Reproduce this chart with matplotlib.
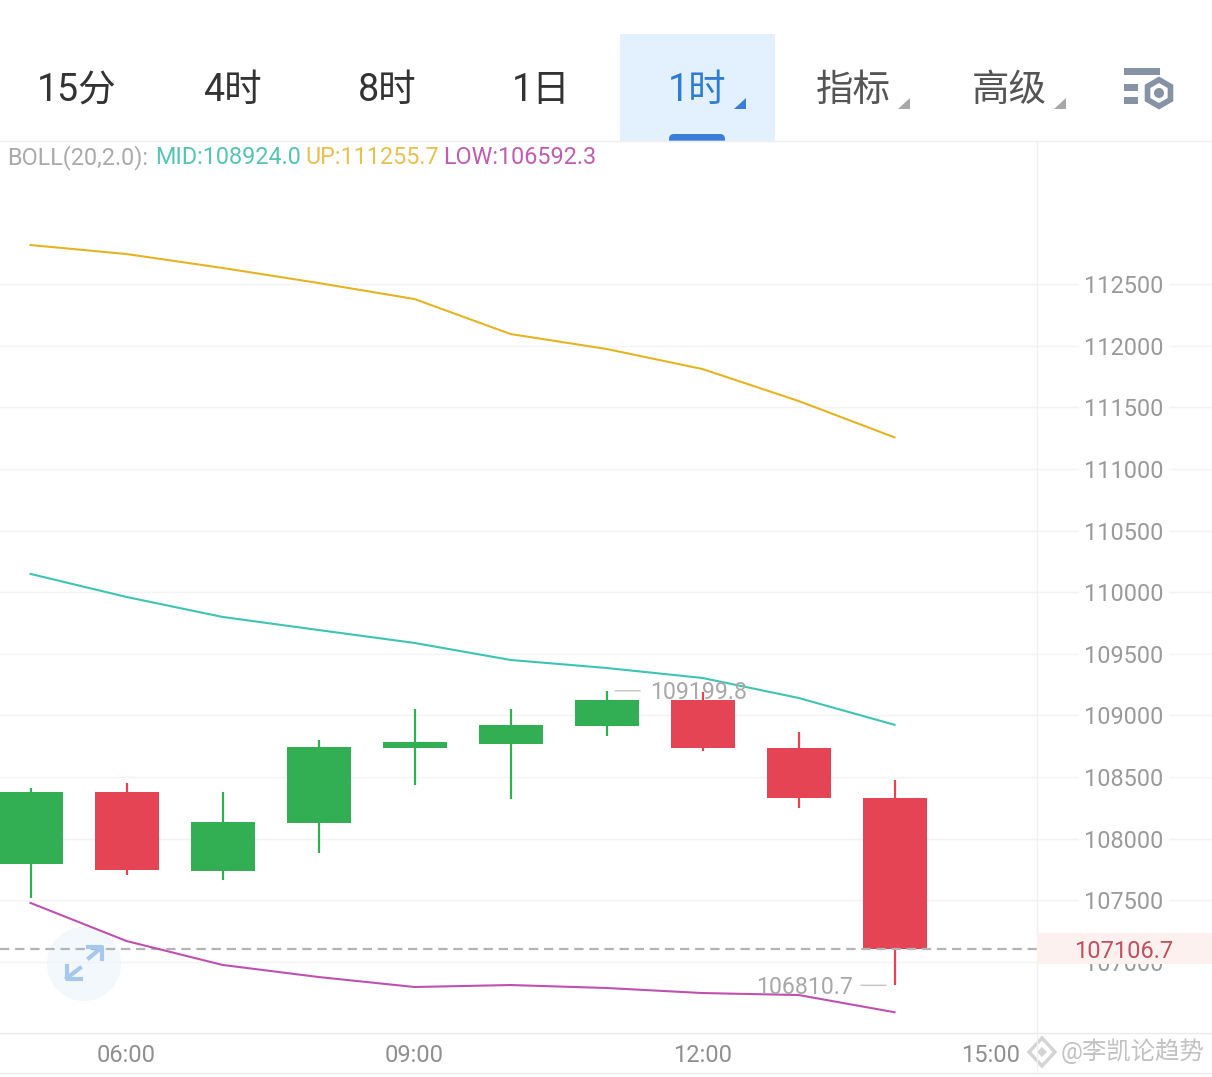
import matplotlib
matplotlib.use("Agg")
import matplotlib.pyplot as plt
from matplotlib.patches import Rectangle, Circle, Polygon, FancyBboxPatch, RegularPolygon

FONT = ['Roboto', 'Noto Sans CJK SC', 'DejaVu Sans']
plt.rcParams['font.family'] = FONT

hours = [5, 6, 7, 8, 9, 10, 11, 12, 13, 14]
opens = [107795, 108379, 107738, 108128, 108736, 108768, 108914, 109125, 108732, 108330]
closes = [108379, 107746, 108136, 108744, 108785, 108923, 109125, 108736, 108330, 107106.7]
highs = [108412, 108452, 108379, 108801, 109052, 109052, 109199.8, 109190, 108866, 108476]
lows = [107519, 107706, 107665, 107884, 108436, 108322, 108833, 108712, 108249, 106810.7]
boll_up = [112816, 112743, 112630, 112508, 112378, 112094, 111973, 111810, 111551, 111255.7]
boll_mid = [110148, 109961, 109799, 109693, 109588, 109450, 109385, 109304, 109142, 108924.0]
boll_low = [107479, 107170, 106976, 106878, 106797, 106813, 106789, 106748, 106732, 106592.3]
y_ticks = [107000, 107500, 108000, 108500, 109000, 109500, 110000, 110500, 111000, 111500, 112000, 112500]
x_ticks = [6, 9, 12, 15]
x_labels = ['06:00', '09:00', '12:00', '15:00']
last_price = 107106.7
tabs = ['15分', '4时', '8时', '1日', '1时', '指标', '高级']

GREEN, RED = '#32ae53', '#e44454'
UPC, MIDC, LOWC = '#e6b422', '#3cc4b4', '#c050b0'
W, H = 1212, 1077

fig = plt.figure(figsize=(W / 100, H / 100), dpi=100, facecolor='white')
ax = fig.add_axes([0, (H - 1032) / H, 1, (1032 - 141) / H])
ax.set_xlim(4.682, 17.307)
ax.set_ylim(106432, 113660)
for s in ax.spines.values():
    s.set_visible(False)
ax.set_facecolor('none')

ax.yaxis.tick_right()
ax.set_yticks(y_ticks)
ax.set_yticklabels([str(v) for v in y_ticks])
ax.tick_params(axis='y', length=0, pad=-92, labelsize=16.9, labelcolor='#9a9a9a')
ax.set_xticks(x_ticks)
ax.set_xticklabels(x_labels)
ax.tick_params(axis='x', length=0, pad=9, labelsize=17, labelcolor='#8f8f8f')
ax.grid(axis='y', color='#f3f3f3', lw=1, zorder=0)
for lab in ax.get_yticklabels():
    lab.set_zorder(3)
    lab.set_bbox(dict(facecolor='white', edgecolor='none', pad=4))

body_w = 0.667
for t, o, c, h, l in zip(hours, opens, closes, highs, lows):
    col = GREEN if c >= o else RED
    ax.vlines(t, l, h, color=col, lw=1.6, zorder=3)
    ax.add_patch(Rectangle((t - body_w / 2, min(o, c)), body_w, abs(c - o), color=col, lw=0, zorder=4))

ax.plot(hours, boll_up, color=UPC, lw=1.5, zorder=5)
ax.plot(hours, boll_mid, color=MIDC, lw=1.5, zorder=5)
ax.plot(hours, boll_low, color=LOWC, lw=1.5, zorder=5)

x_axis_end = 1037 / W
ax.plot([0, x_axis_end], [last_price, last_price], transform=ax.get_yaxis_transform(),
        color='#b4b4b8', lw=1.6, ls=(0, (4.2, 2.6)), zorder=4.5)

ax.annotate('109199.8', xy=(11, 109199.8), xytext=(31, -1.5), textcoords='offset points',
            va='center', ha='left', fontsize=16.7, color='#a8a8a8', zorder=6)
ax.annotate('', xy=(11.06, 109199.8), xytext=(11.38, 109199.8),
            arrowprops=dict(arrowstyle='-', color='#c4c4c4', lw=1), zorder=6)
ax.annotate('106810.7', xy=(14, 106810.7), xytext=(-30, -1.5), textcoords='offset points',
            va='center', ha='right', fontsize=16.7, color='#a8a8a8', zorder=6)
ax.annotate('', xy=(13.94, 106810.7), xytext=(13.62, 106810.7),
            arrowprops=dict(arrowstyle='-', color='#c4c4c4', lw=1), zorder=6)

# overlay in pixel space for app chrome
ui = fig.add_axes([0, 0, 1, 1], facecolor='none')
ui.set_xlim(0, W)
ui.set_ylim(H, 0)
ui.axis('off')

# expand button disc sits beneath the chart lines
ax.add_patch(Circle((84, 964), 37, facecolor='#f3f8fd', edgecolor='none', lw=0,
                    transform=ui.transData, zorder=1, clip_on=False))

ui.plot([0, W], [141, 141], color='#f0f0f0', lw=1)
ui.plot([0, W], [1032.5, 1032.5], color='#ebebeb', lw=1)
ui.plot([0, W], [1073, 1073], color='#ebebeb', lw=1)
ui.plot([1037, 1037], [141, 1073], color='#f0f0f0', lw=1)

ui.add_patch(Rectangle((620, 34), 155, 107, color='#e3f0fd', lw=0))
ui.add_patch(FancyBboxPatch((669, 134), 56, 12, boxstyle='round,pad=0,rounding_size=5', color='#3a7fd5', lw=0))
ui.add_patch(Rectangle((660, 141), 80, 8, color='white', lw=0))
ui.plot([620, 775], [141, 141], color='#f0f0f0', lw=1)
tab_x = [77, 232, 387, 541, 697, 853, 1009]
tab_c = ['#333333'] * 4 + ['#2f7dd3', '#555555', '#555555']
for x, s, c in zip(tab_x, tabs, tab_c):
    ui.text(x, 90.5, s, ha='center', va='center', fontsize=27, color=c)
for x, c in zip([734, 898, 1054], ['#3a7fd5', '#a8a8a8', '#a8a8a8']):
    ui.add_patch(Polygon([(x, 109), (x + 12, 109), (x + 12, 98)], color=c, lw=0))

ic = '#8593a5'
ui.add_patch(Rectangle((1124, 68), 36, 7, color=ic, lw=0))
ui.add_patch(Rectangle((1124, 84), 14, 7, color=ic, lw=0))
ui.add_patch(Rectangle((1124, 97), 14, 7, color=ic, lw=0))
ui.add_patch(RegularPolygon((1159, 93), 6, radius=16.5, color=ic, lw=0))
ui.add_patch(RegularPolygon((1159, 93), 6, radius=10, color='white', lw=0))
ui.add_patch(Circle((1159, 93), 5, color=ic, lw=0))

for x, s, c in [(7.5, 'BOLL(20,2.0):', '#aaaaaa'), (155.5, 'MID:108924.0', '#55c4b4'),
                (305.5, 'UP:111255.7', '#e8c050'), (443.5, 'LOW:106592.3', '#c25cb0')]:
    ui.text(x, 157.5, s, ha='left', va='center', fontsize=16.8, color=c)

ui.add_patch(Rectangle((1037, 933), 175, 31, color='#fdf1f0', lw=0, zorder=5))
ui.text(1124, 951, '107106.7', ha='center', va='center', fontsize=17, color='#c0505c', zorder=6)

ac = '#a5c8ec'
ui.plot([89, 101], [958, 948], color=ac, lw=3)
ui.plot([88, 102, 102], [947, 947, 959], color=ac, lw=3)
ui.plot([67, 80], [978, 968], color=ac, lw=3)
ui.plot([67, 67, 81], [966, 979, 979], color=ac, lw=3)

ui.add_patch(Polygon([(1042, 1038), (1055, 1052), (1042, 1066), (1029, 1052)], closed=True,
                     facecolor='none', edgecolor='#d4d4d4', lw=2.5))
ui.add_patch(Polygon([(1042, 1047), (1047, 1052), (1042, 1057), (1037, 1052)], closed=True,
                     facecolor='#d4d4d4', edgecolor='none'))
ui.text(1061, 1051, '@李凯论趋势', ha='left', va='center', fontsize=17.6, color='#c2c2c2')

fig.savefig('out.png', dpi=100, facecolor='white')
